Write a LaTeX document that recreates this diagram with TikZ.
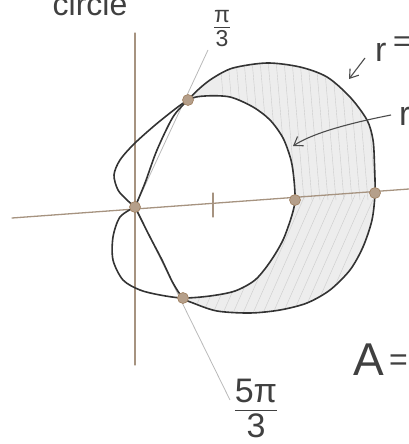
\documentclass[tikz,border=0pt]{standalone}
\usepackage{fontspec}
\setmainfont{Liberation Sans}
\usetikzlibrary{arrows.meta}
\begin{document}
\begin{tikzpicture}[x=1pt,y=-1pt,
  curve/.style={draw=black!80, line width=1.6pt, line join=round, line cap=round},
  axisline/.style={draw=brown!35!gray!85, line width=1.3pt, line cap=round},
  ray/.style={draw=gray!55, line width=0.8pt},
  hatch/.style={draw=gray!40, line width=0.4pt},
  dot/.style={circle, fill=brown!45!gray!75, draw=brown!50!gray, line width=0.6pt, minimum size=11pt, inner sep=0pt},
  hand/.style={text=black!75, inner sep=0pt},
  pointer/.style={draw=black!70, line width=1.1pt, -{Straight Barb[length=8pt,width=11pt]}}]
\useasboundingbox (0,0) rectangle (409,444);
\clip (0,0) rectangle (409,444);

% shaded region between outer circle and inner cardioid
\fill[gray!14]
  plot[smooth] coordinates {(188,100) (200,88) (213,78) (233,68) (267,63) (300,67) (327,77) (350,97) (367,120) (373,140) (374.5,165) (375,193) (372,220) (363,247) (350,270) (330,290) (307,303) (280,310) (250,313) (217,311) (193,303) (183,298)}
  -- plot[smooth] coordinates {(183,298) (210,296) (235,291) (255,280) (270,262) (283,240) (292,215) (295,200) (294,180) (291,160) (283,138) (270,120) (253,107) (230,97) (205,96) (188,100)}
  -- cycle;
\begin{scope}
  \clip plot[smooth] coordinates {(188,100) (200,88) (213,78) (233,68) (267,63) (300,67) (327,77) (350,97) (367,120) (373,140) (374.5,165) (375,193) (372,220) (363,247) (350,270) (330,290) (307,303) (280,310) (250,313) (217,311) (193,303) (183,298)}
  -- plot[smooth] coordinates {(183,298) (210,296) (235,291) (255,280) (270,262) (283,240) (292,215) (295,200) (294,180) (291,160) (283,138) (270,120) (253,107) (230,97) (205,96) (188,100)}
  -- cycle;
  \foreach \x in {150,160,...,420} \draw[hatch] (\x,320) -- ++(55,-125);
  \foreach \x in {220,228,...,380} \draw[hatch] (\x,60) -- ++(12,140);
\end{scope}

% axes
\coordinate (xl) at (12,218);
\coordinate (xr) at (409,189);
\coordinate (yt) at (135,33);
\coordinate (yb) at (135,365);
\draw[axisline] (xl) -- (xr);
\draw[axisline] (yt) -- (yb);
\coordinate (tk1) at (213,193);
\coordinate (tk2) at (213,217);
\draw[axisline] (tk1) -- (tk2);

% rays for pi/3 and 5pi/3
\coordinate (O) at (135,207);
\coordinate (rayA) at (208,50);
\coordinate (rayB) at (230,400);
\draw[ray] (O) -- (rayA);
\draw[ray] (O) -- (rayB);

% circle r = 3cos(theta) (outer)
\draw[curve] plot[smooth] coordinates {(135,207) (145,183) (157,150) (173,117) (188,100) (200,88) (213,78) (233,68) (267,63) (300,67) (327,77) (350,97) (367,120) (373,140) (374.5,165) (375,193) (372,220) (363,247) (350,270) (330,290) (307,303) (280,310) (250,313) (217,311) (193,303) (183,298) (173,283) (162,260) (150,237) (140,217) (135,207)};

% cardioid r = 1 + cos(theta)
\draw[curve] plot[smooth] coordinates {(135,207) (127,200) (118,190) (114,175) (120,160) (135,143) (160,121) (188,100) (205,96) (230,97) (253,107) (270,120) (283,138) (291,160) (294,180) (295,200) (292,215) (283,240) (270,262) (255,280) (235,291) (210,296) (183,298) (160,295) (140,290) (123,280) (113,260) (113,237) (120,217) (135,207)};

% intersection dots
\node[dot] (P1) at (188,100) {};
\node[dot] (P0) at (135,207) {};
\node[dot] (C2) at (295,200) {};
\node[dot] (C3) at (375,193) {};
\node[dot] (P2) at (183,298) {};

% labels
\node[hand, anchor=base] (circ) at (90,16) {\fontsize{32}{32}\selectfont circle};
\node[hand] (lpi3) at (222,31) {\fontsize{23}{23}\selectfont\renewcommand{\arraystretch}{0.75}\begin{tabular}{@{}c@{}}π\\\hline\rule{0pt}{19pt}3\end{tabular}};
\node[hand] (l5pi3) at (256,412) {\fontsize{34}{34}\selectfont\renewcommand{\arraystretch}{0.75}\begin{tabular}{@{}c@{}}5π\\\hline\rule{0pt}{27pt}3\end{tabular}};
\node[hand, anchor=base west] (req) at (375,62) {\fontsize{34}{34}\selectfont r};
\node[hand, anchor=base west] (eqs) at (393,52) {\fontsize{30}{30}\selectfont =};
\node[hand, anchor=base west] (r2) at (399,125) {\fontsize{34}{34}\selectfont r};
\node[hand, anchor=base west] (lA) at (353,375) {\fontsize{46}{46}\selectfont A};
\node[hand, anchor=base west] (eqA) at (389,370) {\fontsize{32}{32}\selectfont =};

% arrows
\coordinate (a1s) at (365,58);
\coordinate (a1e) at (349,79);
\draw[pointer] (a1s) -- (a1e);
\coordinate (a2s) at (391,115);
\coordinate (a2e) at (293,146);
\draw[pointer] (a2s) .. controls (340,125) and (310,135) .. (a2e);
\end{tikzpicture}
\end{document}
